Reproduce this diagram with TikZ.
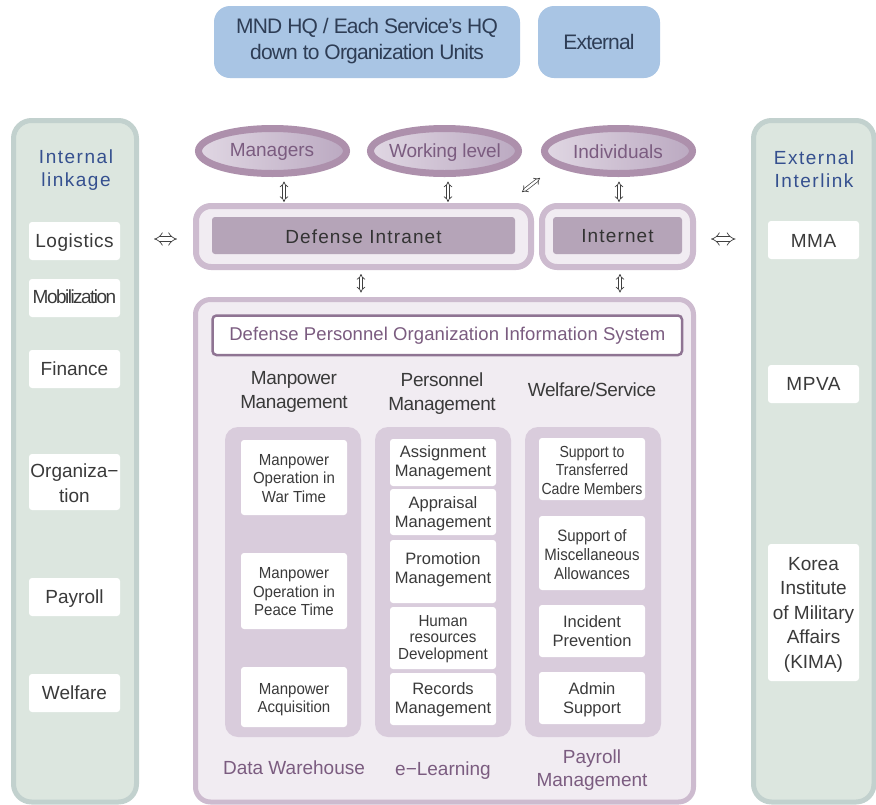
\documentclass[tikz,border=0pt]{standalone}
\usepackage{fontspec}
\setmainfont{Liberation Sans}
\usetikzlibrary{arrows.meta,calc,shapes.geometric}
\definecolor{hqblue}{HTML}{A9C5E4}
\definecolor{hqtext}{HTML}{2E3D55}
\definecolor{panelg}{HTML}{DCE6DF}
\definecolor{panelb}{HTML}{C2D1CE}
\definecolor{lil}{HTML}{F1ECF2}
\definecolor{lilb}{HTML}{CDBBCF}
\definecolor{lild}{HTML}{B5A4B8}
\definecolor{colf}{HTML}{D9CCDC}
\definecolor{ellb}{HTML}{AD90AC}
\definecolor{ovl}{HTML}{E0D7E3}
\definecolor{ovr}{HTML}{BBA9C1}
\definecolor{ptext}{HTML}{7B5C80}
\definecolor{btext}{HTML}{35508F}
\definecolor{dtext}{HTML}{3A3A3A}
\newcommand{\fs}[2]{\fontsize{#1}{#2}\selectfont}
\newcommand{\Bx}[8][0]{\node[#7,inner sep=0pt,outer sep=0pt,minimum width={(#5-#3)*1pt},minimum height={(#6-#4)*1pt}] (#2) at ({(#3+#5)/2},{(#4+#6)/2}) {};
\if\relax\detokenize{#8}\relax\else
\node[#7,/tikz/fill=none,/tikz/draw=none,inner sep=0pt,align=center] (#2t) at ({(#3+#5)/2},{(#4+#6)/2+#1}) {#8};\fi}
\tikzset{x=1pt,y=-1pt,
 hq/.style={fill=hqblue,rounded corners=16pt,text=hqtext,font=\fs{21}{26}\addfontfeature{LetterSpace=-4}},
 panel/.style={fill=panelg,draw=panelb,line width=5pt,rounded corners=18pt},
 wbox/.style={fill=white,rounded corners=3pt,text=dtext,font=\fs{19}{24.5}},
 sbox/.style={fill=white,rounded corners=3pt,text=dtext,font=\fs{16}{18.5}\addfontfeature{FakeStretch=0.94}},
 mbox/.style={fill=white,rounded corners=3pt,text=dtext,font=\fs{16.5}{19}},
 oval/.style={draw=ellb,line width=7pt,left color=ovl,right color=ovr,middle color=ovl!50!ovr,ellipse},
 ovtxt/.style={inner sep=0pt,text=ptext,font=\fs{19}{22}},
 outerb/.style={fill=lil,draw=lilb,line width=6pt,rounded corners=15pt},
 innerb/.style={fill=lild,rounded corners=3pt,text=black!80,font=\fs{19}{22}\addfontfeature{LetterSpace=6}},
 colb/.style={fill=colf,rounded corners=13pt},
 lab/.style={inner sep=0pt,align=center,text=dtext,font=\fs{19}{24}\addfontfeature{LetterSpace=-2}},
 plab/.style={inner sep=0pt,align=center,text=ptext,font=\fs{19}{23}},
 blab/.style={inner sep=0pt,align=center,text=btext,font=\fs{19}{23}\addfontfeature{LetterSpace=8}},
 dbl/.style={draw=black!75,line width=.7pt,double=white,double distance=2.2pt,{Implies}-{Implies}},
 dblw/.style={dbl,double distance=4pt},
}
\begin{document}
\begin{tikzpicture}
\useasboundingbox (0,0) rectangle (876,804);
\fill[white] (0,0) rectangle (876,804);
% top
\Bx[-1]{hq}{214}{6}{520}{78}{hq}{MND HQ / Each Service's HQ\\down to Organization Units}
\Bx{ext}{538}{6}{660}{78}{hq}{External}
% side panels
\Bx{left}{13.5}{120.5}{136.5}{802}{panel}{}
\Bx{right}{753.5}{120.5}{874}{802}{panel}{}
\node[blab] (intl) at (76,170) {Internal\\linkage};
\node[blab] (extl) at (814,169.5) {External\\Interlink};
\Bx[2]{log}{29}{222}{120}{260}{wbox,font=\fs{19}{24}\addfontfeature{LetterSpace=3}}{Logistics}
\Bx[-1]{mob}{29}{279}{120}{317}{wbox,font=\fs{19}{24}\addfontfeature{LetterSpace=-8}}{Mobilization}
\Bx{fin}{29}{350}{120}{388}{wbox}{Finance}
\Bx[1]{org}{29}{454}{120}{510}{wbox}{Organiza−\\tion}
\Bx[2]{pay}{29}{578}{120}{616}{wbox}{Payroll}
\Bx{wel}{29}{674}{120}{712}{wbox}{Welfare}
\Bx[1]{mma}{768}{221}{859}{259}{wbox,font=\fs{19}{24}\addfontfeature{LetterSpace=3}}{MMA}
\Bx{mpva}{768}{365}{859}{403}{wbox,font=\fs{19}{24}\addfontfeature{LetterSpace=3}}{MPVA}
\Bx[2]{kima}{768}{544}{859}{681}{wbox}{Korea\\Institute\\of Military\\Affairs\\(KIMA)}
% ovals
\Bx{mgr}{198.5}{128.5}{346.5}{173.5}{oval}{}
\Bx{wrk}{370.5}{128.5}{518.5}{173.5}{oval}{}
\Bx{ind}{544.5}{128.5}{692.5}{173.5}{oval}{}
\node[ovtxt] (mgrt) at (272,152) {Managers};
\node[ovtxt,font=\fs{19}{22}\addfontfeature{LetterSpace=-1}] (wrkt) at (445,152.5) {Working level};
\node[ovtxt] (indt) at (618,152) {Individuals};
% networks
\Bx{intrao}{196}{206}{531}{267}{outerb}{}
\Bx{inneto}{542}{206}{693}{267}{outerb}{}
\Bx[1]{intra}{212}{217}{515}{254}{innerb}{Defense Intranet}
\Bx[1]{inet}{553}{217}{682}{254}{innerb}{Internet}
% main
\Bx{main}{195.5}{299.5}{693.5}{802}{outerb,line width=5pt}{}
\Bx{dpois}{212.5}{315.5}{682}{355}{fill=white,draw=ptext!85,line width=2.5pt,rounded corners=4pt,text=ptext,font=\fs{18.5}{22}\addfontfeature{LetterSpace=0.5}}{Defense Personnel Organization Information System}
\node[lab] (h1) at (294,392) {Manpower\\Management};
\node[lab] (h2) at (442,394) {Personnel\\Management};
\node[lab] (h3) at (592,390) {Welfare/Service};
\Bx{c1}{225}{427}{361}{737}{colb}{}
\Bx{c2}{375}{427}{511}{737}{colb}{}
\Bx{c3}{525}{427}{661}{737}{colb}{}
\Bx[1]{a1}{241}{440}{347}{515}{sbox}{Manpower\\Operation in\\War Time}
\Bx[1]{a2}{241}{553}{347}{629}{sbox}{Manpower\\Operation in\\Peace Time}
\Bx[2.5]{a3}{241}{667}{347}{727}{sbox}{Manpower\\Acquisition}
\Bx{b1}{390}{439}{496}{486}{mbox}{Assignment\\Management}
\Bx[2]{b2}{390}{489}{496}{535}{mbox}{Appraisal\\Management}
\Bx[-2]{b3}{390}{540}{496}{603}{mbox}{Promotion\\Management}
\Bx[1]{b4}{390}{607}{496}{669}{sbox,font=\fs{16}{16.5}\addfontfeature{FakeStretch=0.95}}{Human\\resources\\Development}
\Bx[1]{b5}{390}{673}{496}{725}{mbox}{Records\\Management}
\Bx[1]{d1}{539}{438}{645}{500}{sbox,font=\fs{16}{18.5}\addfontfeature{FakeStretch=0.88}}{Support to\\Transferred\\Cadre Members}
\Bx[1.5]{d2}{539}{516}{645}{590}{mbox,font=\fs{16.5}{19}\addfontfeature{FakeStretch=0.91}}{Support of\\Miscellaneous\\Allowances}
\Bx{d3}{539}{605}{645}{657}{mbox}{Incident\\Prevention}
\Bx[2]{d4}{539}{672}{645}{724}{mbox}{Admin\\Support}
\node[plab] (f1) at (294,768) {Data Warehouse};
\node[plab] (f2) at (443,771) {e−Learning};
\node[plab] (f3) at (592,770) {Payroll\\Management};
% arrows
\coordinate (xa) at (284,190);
\coordinate (xb) at (448,190);
\coordinate (xc) at (619,190);
\coordinate (xd) at (361,284);
\coordinate (xe) at (620,284);
\coordinate (ya) at (150,239);
\draw[dbl,shorten <=8pt,shorten >=4pt] (mgr.south -| xa) -- (intrao.north -| xa);
\draw[dbl,shorten <=8pt,shorten >=4pt] (wrk.south -| xb) -- (intrao.north -| xb);
\draw[dbl,shorten <=8pt,shorten >=4pt] (ind.south -| xc) -- (inneto.north -| xc);
\draw[dbl,shorten <=7pt,shorten >=7pt] (intrao.south -| xd) -- (main.north -| xd);
\draw[dbl,shorten <=7pt,shorten >=7pt] (inneto.south -| xe) -- (main.north -| xe);
\draw[dblw,shorten <=17.5pt,shorten >=19pt] (left.east |- ya) -- (intrao.west |- ya);
\draw[dblw,shorten <=18pt,shorten >=18pt] (inneto.east |- ya) -- (right.west |- ya);
\coordinate (dga) at (522,192);
\coordinate (dgb) at (540,178);
\draw[dbl] (dga) -- (dgb);
\end{tikzpicture}
\end{document}
